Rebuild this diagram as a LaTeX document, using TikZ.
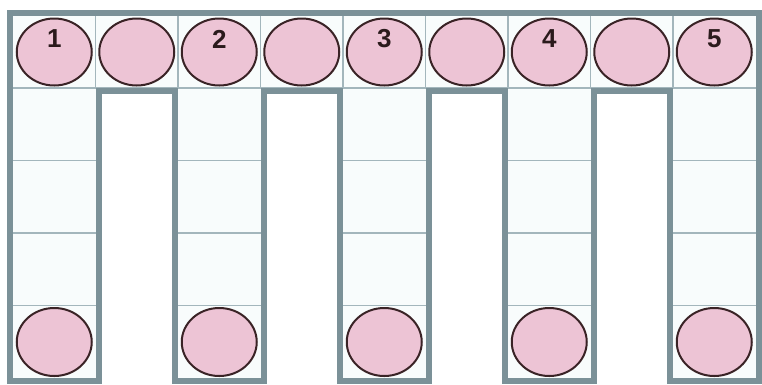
\documentclass[tikz,border=0pt]{standalone}
\usepackage{fontspec}
\setmainfont{Liberation Sans}
\usetikzlibrary{shapes.geometric}
\definecolor{frame}{HTML}{7B9198}
\definecolor{thin}{HTML}{A3B6BC}
\definecolor{cellfill}{HTML}{F8FCFC}
\definecolor{pink}{HTML}{EDC4D5}
\definecolor{rim}{HTML}{3A2326}
\definecolor{digit}{HTML}{2B1A1C}
\tikzset{
  ball/.style={ellipse, draw=rim, line width=2pt, fill=pink, minimum width=75pt, minimum height=67pt, inner sep=0pt},
  numtext/.style={font=\fontsize{26}{26}\selectfont\bfseries, text=digit, inner sep=0pt},
  gridline/.style={draw=thin, line width=1.5pt},
  frameline/.style={draw=frame, line width=6pt, line join=miter}
}
\begin{document}
\begin{tikzpicture}[x=1pt,y=-1pt]
\useasboundingbox (0,0) rectangle (762,384);
\def\xo{13}\def\cw{82.5}\def\yt{16}\def\yb{88}\def\yend{378}\def\rh{72.5}
% fills
\fill[cellfill] (\xo,\yt) rectangle (\xo+9*\cw,\yb);
\foreach \k in {0,2,4,6,8}{
  \fill[cellfill] (\xo+\k*\cw,\yb) rectangle (\xo+\k*\cw+\cw,\yend);
}
% thin grid
\draw[gridline] (\xo,\yb) -- (\xo+9*\cw,\yb);
\foreach \k in {1,...,8}{
  \draw[gridline] (\xo+\k*\cw,\yt) -- (\xo+\k*\cw,\yb);
}
\foreach \k in {0,2,4,6,8}{
  \foreach \r in {1,2,3}{
    \draw[gridline] (\xo+\k*\cw,\yb+\r*\rh) -- (\xo+\k*\cw+\cw,\yb+\r*\rh);
  }
}
% thick comb outline
\draw[frameline] (10,381) -- (10,13) -- (758.5,13) -- (758.5,381) -- (670,381)
  -- (670,91) -- (593.5,91) -- (593.5,381) -- (505,381)
  -- (505,91) -- (428.5,91) -- (428.5,381) -- (340,381)
  -- (340,91) -- (263.5,91) -- (263.5,381) -- (175,381)
  -- (175,91) -- (98.5,91) -- (98.5,381) -- cycle;
% top balls
\foreach \k in {0,...,8}{
  \node[ball] (t\k) at (\xo+\k*\cw+\cw/2,52) {};
}
% bottom balls
\foreach \k in {0,2,4,6,8}{
  \node[ball, minimum height=68pt] (b\k) at (\xo+\k*\cw+\cw/2,342) {};
}
% numbers
\node[numtext] (n1) at ([yshift=13pt]t0.center) {1};
\node[numtext] (n2) at ([yshift=13pt]t2.center) {2};
\node[numtext] (n3) at ([yshift=13pt]t4.center) {3};
\node[numtext] (n4) at ([yshift=13pt]t6.center) {4};
\node[numtext] (n5) at ([yshift=13pt]t8.center) {5};
\end{tikzpicture}
\end{document}
